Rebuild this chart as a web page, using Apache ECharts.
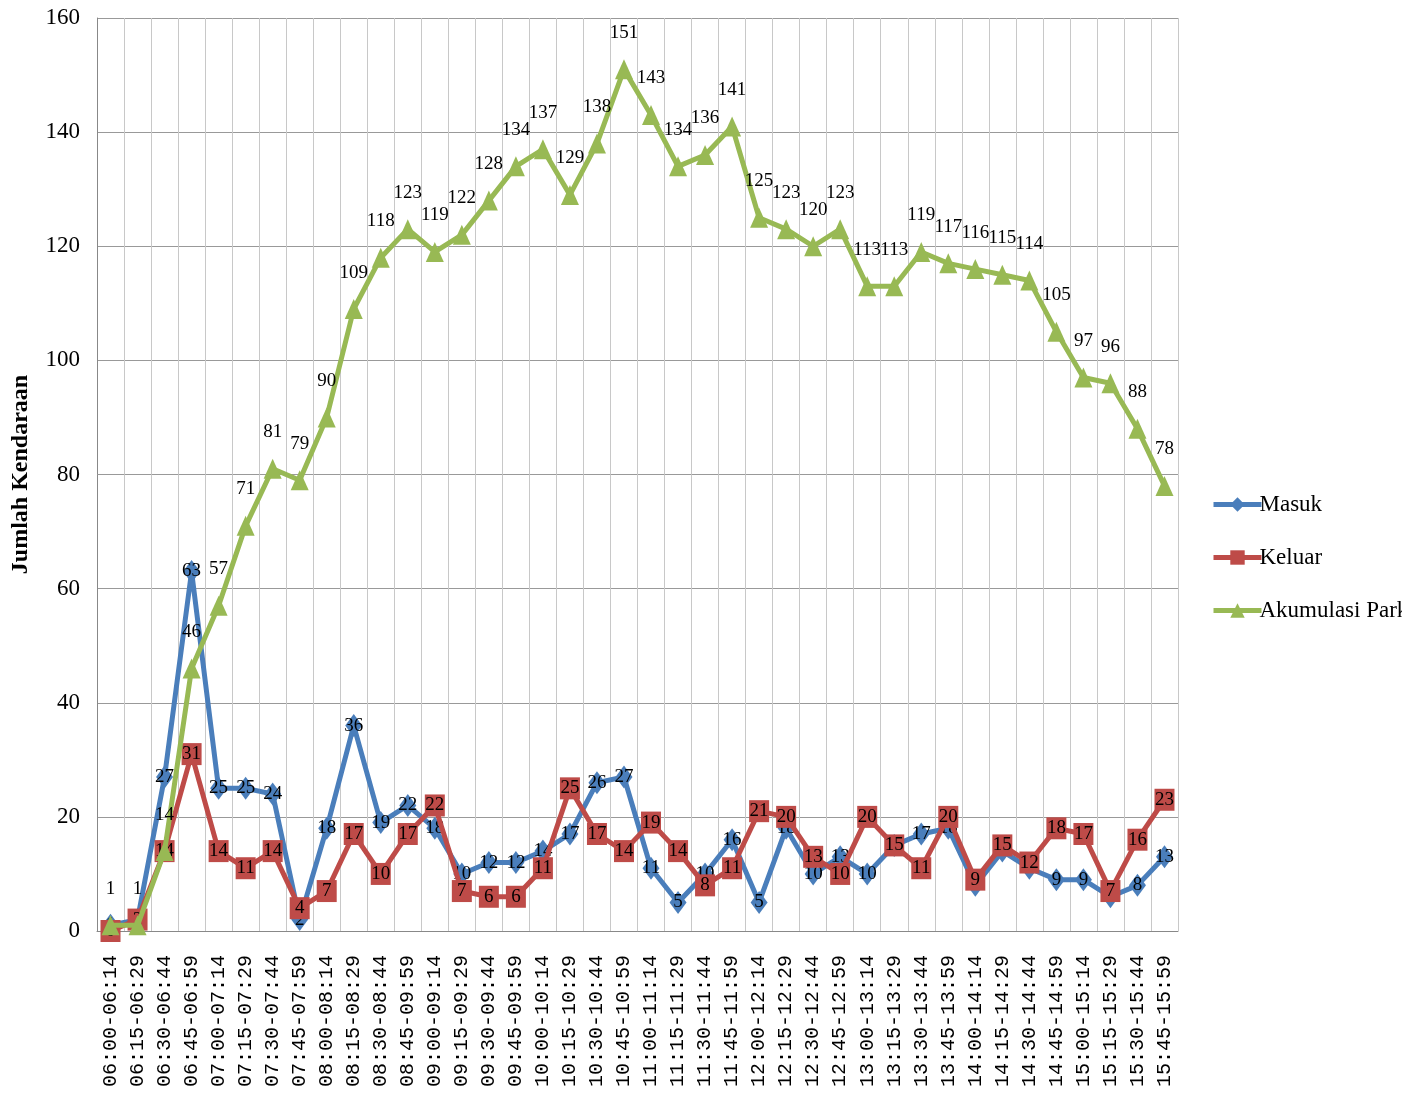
<!DOCTYPE html>
<html>
<head>
<meta charset="utf-8">
<script src="https://cdn.jsdelivr.net/npm/echarts@6/dist/echarts.min.js"></script>
<style>html,body{margin:0;padding:0;background:#fff}#c{width:1402px;height:1099px}</style>
</head>
<body>
<div id="c"></div>
<script>
const categories = ["06:00-06:14","06:15-06:29","06:30-06:44","06:45-06:59","07:00-07:14","07:15-07:29","07:30-07:44","07:45-07:59","08:00-08:14","08:15-08:29","08:30-08:44","08:45-09:59","09:00-09:14","09:15-09:29","09:30-09:44","09:45-09:59","10:00-10:14","10:15-10:29","10:30-10:44","10:45-10:59","11:00-11:14","11:15-11:29","11:30-11:44","11:45-11:59","12:00-12:14","12:15-12:29","12:30-12:44","12:45-12:59","13:00-13:14","13:15-13:29","13:30-13:44","13:45-13:59","14:00-14:14","14:15-14:29","14:30-14:44","14:45-14:59","15:00-15:14","15:15-15:29","15:30-15:44","15:45-15:59"];
const masuk = [1,2,27,63,25,25,24,2,18,36,19,22,18,10,12,12,14,17,26,27,11,5,10,16,5,18,10,13,10,15,17,18,8,14,11,9,9,6,8,13];
const keluar = [0,2,14,31,14,11,14,4,7,17,10,17,22,7,6,6,11,25,17,14,19,14,8,11,21,20,13,10,20,15,11,20,9,15,12,18,17,7,16,23];
const akumulasi = [1,1,14,46,57,71,81,79,90,109,118,123,119,122,128,134,137,129,138,151,143,134,136,141,125,123,120,123,113,113,119,117,116,115,114,105,97,96,88,78];
const yTicks = {min:0, max:160, interval:20};

const serif = 'Liberation Serif';
const chart = echarts.init(document.getElementById('c'));
const lbl = (pos, size, dist) => ({show:true, position:pos, distance:dist||0, color:'#000', fontFamily:serif, fontSize:size});
chart.setOption({
  animation:false,
  backgroundColor:'#fff',
  grid:{left:97, right:224, top:18, bottom:168, outerBoundsMode:'none', containLabel:false},
  legend:{
    orient:'vertical', left:1206, top:488, itemGap:30, itemWidth:48, itemHeight:18,
    lineStyle:{width:5},
    textStyle:{fontFamily:serif, fontSize:23, color:'#000', padding:[0,0,0,-7]},
    data:['Masuk','Keluar','Akumulasi Parkir']
  },
  xAxis:{
    type:'category', data:categories, boundaryGap:true,
    axisLine:{lineStyle:{color:'#888', width:1}},
    axisTick:{show:false},
    axisLabel:{rotate:90, interval:0, margin:24, fontFamily:'Liberation Mono', fontSize:20, color:'#000'},
    splitLine:{show:true, interval:0, lineStyle:{color:'#c8c8c8', width:1}}
  },
  yAxis:{
    type:'value', min:yTicks.min, max:yTicks.max, interval:yTicks.interval,
    name:'Jumlah Kendaraan', nameLocation:'middle', nameGap:64, nameRotate:90,
    nameTextStyle:{fontFamily:serif, fontWeight:'bold', fontSize:24, color:'#000'},
    axisLine:{show:true, lineStyle:{color:'#888'}},
    axisTick:{show:false},
    axisLabel:{fontFamily:serif, fontSize:23, color:'#000', margin:17},
    splitLine:{show:true, lineStyle:{color:'#999', width:1}}
  },
  series:[
    {name:'Masuk', type:'line', data:masuk, symbol:'diamond', symbolSize:[17,23],
     itemStyle:{color:'#4A7EBB'}, lineStyle:{color:'#4A7EBB', width:5},
     label:lbl('inside',19), z:3},
    {name:'Keluar', type:'line', data:keluar, symbol:'rect', symbolSize:[20,22],
     itemStyle:{color:'#BE4B48'}, lineStyle:{color:'#BE4B48', width:5},
     label:lbl('inside',19), z:4},
    {name:'Akumulasi Parkir', type:'line', data:akumulasi, symbol:'triangle', symbolSize:[18,20],
     itemStyle:{color:'#98B954'}, lineStyle:{color:'#98B954', width:5},
     label:lbl('top',19,17), z:5}
  ]
});
</script>
</body>
</html>
